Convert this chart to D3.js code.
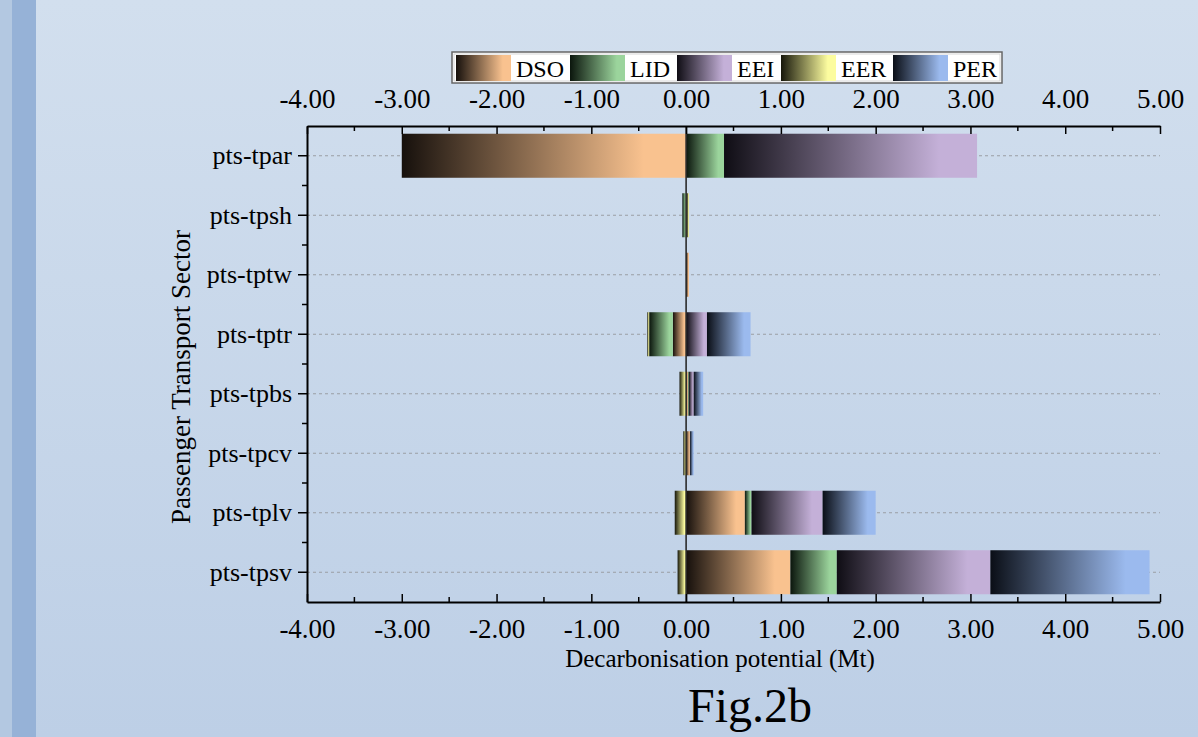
<!DOCTYPE html>
<html>
<head>
<meta charset="utf-8">
<script src="https://cdn.jsdelivr.net/npm/d3@7"></script>
<style>
  html, body { margin: 0; padding: 0; }
  body { width: 1198px; height: 737px; overflow: hidden; }
  svg { display: block; }
</style>
</head>
<body>
<svg id="chart" width="1198" height="737"></svg>
<script>
// Passenger transport decarbonisation potential (Mt) by driver
const categories = ["pts-tpar", "pts-tpsh", "pts-tptw", "pts-tptr", "pts-tpbs", "pts-tpcv", "pts-tplv", "pts-tpsv"];
const seriesNames = ["DSO", "LID", "EEI", "EER", "PER"];
const DSO = [-3.00, 0.01, 0.03, -0.14, 0.02, 0.04, 0.62, 1.10];
const LID = [0.40, -0.04, 0.00, -0.25, 0.01, 0.00, 0.07, 0.49];
const EEI = [2.67, 0.00, 0.00, 0.22, 0.05, 0.00, 0.75, 1.62];
const EER = [0.00, 0.02, 0.00, -0.02, -0.07, -0.03, -0.12, -0.09];
const PER = [0.00, 0.00, 0.00, 0.46, 0.10, 0.04, 0.56, 1.68];
const xTicks = [-4, -3, -2, -1, 0, 1, 2, 3, 4, 5];

const seriesValues = { DSO, LID, EEI, EER, PER };
const seriesColor = {
  DSO: ["#16100c", "#f9c28f"],
  LID: ["#0b160d", "#9bd49c"],
  EEI: ["#0f0d14", "#c4b0d8"],
  EER: ["#16160a", "#fcfc9f"],
  PER: ["#0a0e16", "#9bbaee"]
};

const rows = categories.map((c, i) => {
  const r = { cat: c };
  seriesNames.forEach(s => r[s] = seriesValues[s][i]);
  return r;
});

const svg = d3.select("#chart");
const defs = svg.append("defs");

// page background
const bg = defs.append("linearGradient").attr("id", "bg").attr("x1", 0).attr("y1", 0).attr("x2", 0).attr("y2", 1);
bg.append("stop").attr("offset", 0).attr("stop-color", "#d2dfee");
bg.append("stop").attr("offset", 1).attr("stop-color", "#bdcfe6");
svg.append("rect").attr("width", 1198).attr("height", 737).attr("fill", "url(#bg)");
svg.append("rect").attr("x", 0).attr("y", 0).attr("width", 12).attr("height", 737).attr("fill", "#b3c8e1");
svg.append("rect").attr("x", 12).attr("y", 0).attr("width", 24).attr("height", 737).attr("fill", "#96b2d7");

// dark-to-colour gradients for each driver
seriesNames.forEach(s => {
  const g = defs.append("linearGradient").attr("id", "grad-" + s)
    .attr("x1", 0).attr("y1", 0).attr("x2", 1).attr("y2", 0);
  g.append("stop").attr("offset", 0).attr("stop-color", seriesColor[s][0]);
  g.append("stop").attr("offset", 0.85).attr("stop-color", seriesColor[s][1]);
  g.append("stop").attr("offset", 1).attr("stop-color", seriesColor[s][1]);
});

const plotLeft = 307, plotRight = 1160, plotTop = 126, plotBottom = 602;
const x = d3.scaleLinear().domain([-4, 5]).range([plotLeft, plotRight]);
const y = d3.scaleBand().domain(categories).range([plotTop, plotBottom]).paddingInner(0.26).paddingOuter(0.13);
const yc = d3.scaleBand().domain(categories).range([plotTop, plotBottom]);

const font = "'Liberation Serif', 'Times New Roman', serif";

// dashed guide lines at each category
svg.append("g").selectAll("line").data(categories).join("line")
  .attr("x1", plotLeft).attr("x2", plotRight)
  .attr("y1", d => yc(d) + yc.bandwidth() / 2).attr("y2", d => yc(d) + yc.bandwidth() / 2)
  .attr("stroke", "#9a9ea4").attr("stroke-width", 1).attr("stroke-dasharray", "3,3");

// stacked bars, negatives stacked leftwards from zero
const stack = d3.stack().keys(seriesNames).offset(d3.stackOffsetDiverging);
const layers = stack(rows);
svg.append("g").selectAll("g").data(layers).join("g")
  .attr("fill", d => "url(#grad-" + d.key + ")")
  .selectAll("rect").data(d => d.filter(p => p[1] - p[0] !== 0)).join("rect")
  .attr("x", d => x(Math.min(d[0], d[1])))
  .attr("width", d => Math.abs(x(d[1]) - x(d[0])))
  .attr("y", d => y(d.data.cat))
  .attr("height", y.bandwidth());

// zero line
svg.append("line").attr("x1", x(0)).attr("x2", x(0)).attr("y1", plotTop).attr("y2", plotBottom)
  .attr("stroke", "#2a2a2a").attr("stroke-width", 1.6);

// axes
const fmt = d => d.toFixed(2);
const minor = d3.range(-4, 5.01, 0.5).filter(v => !Number.isInteger(v));

function styleAxis(g, size) {
  g.selectAll(".domain").attr("stroke", "#000").attr("stroke-width", 2);
  g.selectAll(".tick line").attr("stroke", "#000").attr("stroke-width", 1.5);
  g.selectAll("text").attr("font-family", font).attr("font-size", size).attr("fill", "#000");
}

const topAxis = svg.append("g").attr("transform", `translate(0,${plotTop})`)
  .call(d3.axisTop(x).tickValues(xTicks).tickFormat(fmt).tickSizeInner(-8).tickSizeOuter(0).tickPadding(18));
styleAxis(topAxis, 27);
svg.append("g").selectAll("line").data(minor).join("line")
  .attr("x1", d => x(d)).attr("x2", d => x(d)).attr("y1", plotTop).attr("y2", plotTop + 5)
  .attr("stroke", "#000").attr("stroke-width", 1.5);

const botAxis = svg.append("g").attr("transform", `translate(0,${plotBottom})`)
  .call(d3.axisBottom(x).tickValues(xTicks).tickFormat(fmt).tickSizeInner(-8).tickSizeOuter(0).tickPadding(17));
styleAxis(botAxis, 27);
svg.append("g").selectAll("line").data(minor).join("line")
  .attr("x1", d => x(d)).attr("x2", d => x(d)).attr("y1", plotBottom).attr("y2", plotBottom - 5)
  .attr("stroke", "#000").attr("stroke-width", 1.5);

const leftAxis = svg.append("g").attr("transform", `translate(${plotLeft},0)`)
  .call(d3.axisLeft(yc).tickSizeInner(9).tickSizeOuter(0).tickPadding(6));
styleAxis(leftAxis, 26);
svg.append("g").selectAll("line").data(categories.slice(1)).join("line")
  .attr("x1", plotLeft - 5).attr("x2", plotLeft).attr("y1", d => yc(d)).attr("y2", d => yc(d))
  .attr("stroke", "#000").attr("stroke-width", 1.5);

// axis titles
svg.append("text").attr("x", 720).attr("y", 667)
  .attr("text-anchor", "middle").attr("font-family", font).attr("font-size", 25)
  .text("Decarbonisation potential (Mt)");
svg.append("text").attr("transform", "translate(190,377) rotate(-90)")
  .attr("text-anchor", "middle").attr("font-family", font).attr("font-size", 27)
  .text("Passenger Transport Sector");
svg.append("text").attr("x", 750).attr("y", 722)
  .attr("text-anchor", "middle").attr("font-family", font).attr("font-size", 48)
  .text("Fig.2b");

// legend
const legend = svg.append("g");
legend.append("rect").attr("x", 452).attr("y", 52).attr("width", 550).attr("height", 31)
  .attr("fill", "#fff").attr("stroke", "#666").attr("stroke-width", 1.5);
legend.append("rect").attr("x", 454).attr("y", 54).attr("width", 546).attr("height", 27)
  .attr("fill", "none").attr("stroke", "#ccc").attr("stroke-width", 0.8);
const legX = [456, 570, 677, 781, 893];
const items = legend.selectAll("g.item").data(seriesNames).join("g").attr("class", "item")
  .attr("transform", (d, i) => `translate(${legX[i]},55)`);
items.append("rect").attr("width", 55).attr("height", 26).attr("fill", d => "url(#grad-" + d + ")");
items.append("text").attr("x", 60).attr("y", 22).attr("font-family", font).attr("font-size", 24)
  .text(d => d);
</script>
</body>
</html>
